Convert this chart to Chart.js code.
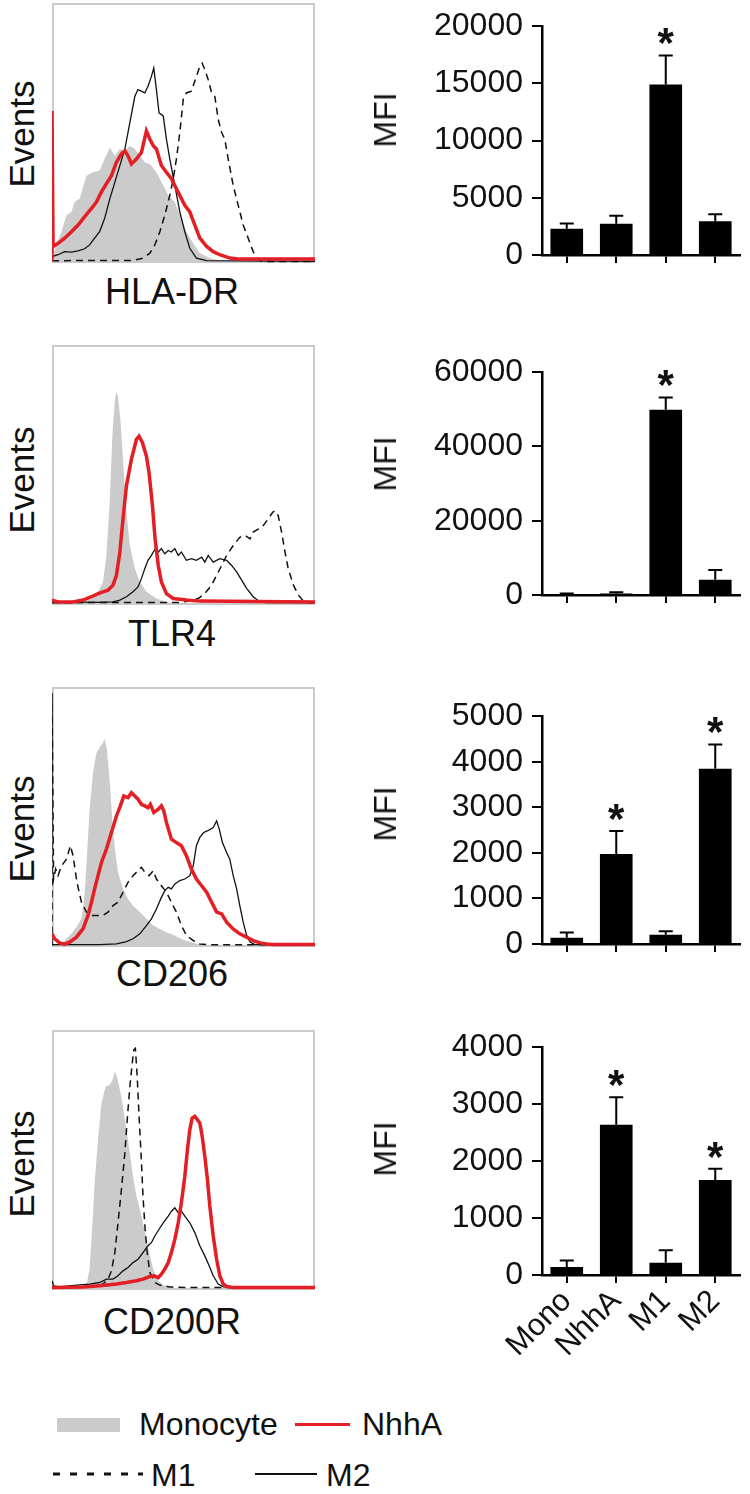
<!DOCTYPE html>
<html>
<head>
<meta charset="utf-8">
<script src="https://cdn.jsdelivr.net/npm/chart.js@4.4.1/dist/chart.umd.min.js"></script>
<style>
  body { margin: 0; background: #fff; width: 750px; height: 1494px; position: relative; overflow: hidden;
         font-family: Arial, "Liberation Sans", sans-serif; color: #111; }
  .box { position: absolute; left: 52px; width: 263px; height: 260px; border: 2px solid #cbcbcb; box-sizing: border-box; }
  canvas { position: absolute; }
  .txt { position: absolute; white-space: nowrap; line-height: 1; }
  .rot { transform: translate(-50%, -50%) rotate(-90deg); }
  .xl { transform: translate(-50%, -50%); font-size: 36px; left: 172px; }
</style>
</head>
<body>

<div class="box" style="top:3px"></div>
<div class="box" style="top:345px"></div>
<div class="box" style="top:687px"></div>
<div class="box" style="top:1030px"></div>

<canvas id="h1" width="263" height="260" style="left:52px;top:3px"></canvas>
<canvas id="h2" width="263" height="260" style="left:52px;top:345px"></canvas>
<canvas id="h3" width="263" height="260" style="left:52px;top:687px"></canvas>
<canvas id="h4" width="263" height="260" style="left:52px;top:1030px"></canvas>

<div class="txt rot" style="left:21px;top:134px;font-size:35px">Events</div>
<div class="txt rot" style="left:21px;top:480px;font-size:35px">Events</div>
<div class="txt rot" style="left:21px;top:829px;font-size:35px">Events</div>
<div class="txt rot" style="left:21px;top:1164px;font-size:35px">Events</div>

<div class="txt xl" style="top:292px">HLA-DR</div>
<div class="txt xl" style="top:634px">TLR4</div>
<div class="txt xl" style="top:974px">CD206</div>
<div class="txt xl" style="top:1322px">CD200R</div>

<canvas id="b1" width="390" height="297" style="left:360px;top:-2px"></canvas>
<canvas id="b2" width="390" height="291" style="left:360px;top:344px"></canvas>
<canvas id="b3" width="390" height="296" style="left:360px;top:688px"></canvas>
<canvas id="b4" width="390" height="366" style="left:360px;top:1019px"></canvas>

<div class="txt rot" style="left:385px;top:120px;font-size:32px">MFI</div>
<div class="txt rot" style="left:385px;top:464px;font-size:32px">MFI</div>
<div class="txt rot" style="left:385px;top:814px;font-size:32px">MFI</div>
<div class="txt rot" style="left:385px;top:1149px;font-size:32px">MFI</div>

<!-- legend -->
<div style="position:absolute;left:57px;top:1418px;width:63px;height:14px;background:#cbcbcb"></div>
<div class="txt" style="left:139px;top:1408px;font-size:32px">Monocyte</div>
<div style="position:absolute;left:295px;top:1423px;width:55px;height:3px;background:#e31e24"></div>
<div class="txt" style="left:362px;top:1408px;font-size:32px">NhhA</div>
<svg style="position:absolute;left:0;top:1460px" width="200" height="30">
  <line x1="53" y1="14" x2="143" y2="14" stroke="#111" stroke-width="3" stroke-dasharray="7 10"/>
</svg>
<div class="txt" style="left:151px;top:1459px;font-size:32px">M1</div>
<div style="position:absolute;left:255px;top:1473px;width:62px;height:2px;background:#111"></div>
<div class="txt" style="left:326px;top:1459px;font-size:32px">M2</div>

<script>
// ---- histogram traces: [channel %, events %] ----
const hlaMono = [[0,0.6],[1.6,6.4],[3.6,11.5],[5.5,17.9],[7.4,19.2],[8.6,23],[10.5,24.3],[13.1,33.2],[15.6,34.5],[18.1,35.2],[20,39.6],[22,44.1],[23.9,40.9],[25.8,43.5],[27.7,42.8],[29.6,44.8],[31.5,43.5],[33.4,40.9],[35.3,38.4],[37.2,37.7],[39.7,34.5],[42.3,29.4],[44.2,25.6],[46.7,23],[49.2,16.6],[51.1,11.5],[53.7,7],[56.2,3.2],[60,1.3],[63.8,0.3],[68.9,0],[100,0]];
const hlaNhhA = [[0,0],[0,58.2],[0.4,5.8],[2.3,7],[4.8,9],[7.4,11.5],[9.9,14.1],[12.4,17.3],[15,20.5],[16.9,23],[18.8,26.9],[20.7,30.1],[22.6,33.2],[24.5,38.4],[26.4,41.6],[27.7,42.8],[28.9,40.9],[30.2,37.7],[32.1,39.6],[34,42.2],[35.9,50.5],[37.2,47.3],[38.5,44.8],[39.7,43.5],[41.6,37.1],[43.5,34.5],[45.4,32],[47.3,28.1],[49.2,24.3],[50.5,21.7],[52.4,19.2],[54.3,14.1],[56.2,9],[58.8,5.8],[61.3,3.8],[63.8,2.6],[67.6,1.3],[71.4,0.9],[100,0.9]];
const hlaM1 = [[0,0.3],[30.8,0.4],[34.6,1.3],[37.2,3.2],[39.1,6.4],[41,11.5],[42.9,17.9],[44.8,25.6],[46.1,32],[47.3,39.6],[48.6,49.9],[49.9,62.7],[51.1,65.2],[53,65.9],[54.9,71.6],[56.2,75.4],[57.1,76.7],[58.1,74.2],[59.4,70.3],[60.7,65.2],[61.9,63.9],[63.2,55],[64.5,49.9],[65.7,47.3],[67,39.6],[68.9,29.4],[70.8,21.7],[72.7,14.1],[74.6,9],[76.5,3.8],[78.4,0.6],[80.3,0],[100,0]];
const hlaM2 = [[0,1.9],[2.3,2.6],[4.8,3.8],[7.4,3.6],[9.9,4.1],[12.4,4.9],[14.3,6.4],[16.2,9],[18.1,11.5],[20,16.6],[22,24.3],[23.9,30.7],[25.8,37.1],[27.7,43.5],[29.6,53.7],[31.5,63.9],[32.7,66.5],[34,65.9],[35.3,65.2],[36.5,67.8],[37.8,71.6],[38.7,74.8],[39.7,66.5],[40.7,57.5],[42.3,56.3],[43.5,47.3],[44.8,39.6],[46.7,29.4],[48.6,19.2],[50.5,11.5],[52.4,5.1],[54.9,1.3],[58.8,0.3],[100,0]];

const tlrMono = [[0,4.5],[0.6,1.3],[2.3,0.4],[11.8,0.6],[15,1.9],[17.5,4.5],[19.4,8.3],[20.7,18.6],[22,40.4],[23,66],[23.9,78.8],[24.5,82],[25.1,80.1],[26,71.2],[27,55.8],[28.3,35.3],[29.6,22.4],[31.5,13.5],[33.4,8.3],[35.9,4.5],[39.7,1.9],[43.5,0.6],[47.3,0],[100,0]];
const tlrNhhA = [[0,1.3],[2.3,0.6],[8,0.6],[11.8,1.3],[15,2.6],[17.5,3.8],[19.4,4.5],[21.3,5.1],[23.2,7.1],[24.5,10.9],[25.8,19.9],[27,32.7],[28.3,45.5],[30.2,55.8],[32.1,63.5],[33.1,64.7],[34.4,62.2],[35.9,57],[36.9,50.6],[38.2,37.8],[39.2,25],[40.4,14.7],[41.6,8.3],[43.5,3.8],[46.1,1.9],[51.1,1.3],[56.2,0.9],[100,0.6]];
const tlrM1 = [[0,0.3],[48.6,0.4],[52.4,0.9],[55.6,1.9],[58.1,3.8],[60.7,7.1],[62.6,10.9],[64.5,14.7],[66.4,18.6],[68.9,22.4],[71.4,25.6],[73.4,26.3],[75.3,25],[76.5,27.6],[78.4,28.8],[80.3,30.1],[82.2,32.7],[83.9,35.3],[84.8,35.9],[86,34],[87.3,27.6],[88.6,19.9],[89.8,13.5],[91.8,7.1],[93.7,3.2],[95.6,0.9],[97.5,0.3],[100,0.3]];
const tlrM2 = [[0,0.6],[18.1,0.4],[23.2,0.6],[25.8,1.3],[28.3,2.6],[30.8,4.5],[32.7,6.4],[34,9.6],[35.3,13.5],[36.5,16.7],[37.8,18.6],[39.1,20.9],[40.4,19.9],[41.6,21.2],[42.9,19.2],[44.2,20.5],[45.4,19.9],[46.7,21.2],[48,18.6],[49.2,19.9],[51.1,16.7],[53,17.3],[54.9,16.7],[56.9,17.9],[58.1,16],[59.4,18.6],[61.3,16],[63.8,17.3],[66.4,16.7],[68.3,14.7],[70.2,12.2],[72.1,9],[74,5.8],[76.5,2.6],[79.1,0.6],[81.6,0.3],[100,0.3]];

const cd206Mono = [[0,0],[3.6,0.6],[5.5,2.6],[7.4,4.5],[9.3,7.1],[11.2,10.3],[12.4,19.3],[13.3,34.7],[14.3,52.7],[15.6,66.8],[16.9,74.6],[18.1,76.5],[19.4,78.4],[20,79.9],[20.9,75.8],[22,63],[23,47.6],[23.9,37.3],[25.1,28.3],[27,21.9],[28.9,18],[30.8,15.4],[33.4,12.9],[35.9,10.3],[38.5,7.7],[41,6.4],[43.5,5.1],[46.1,4.1],[48.6,2.8],[51.1,1.8],[53.7,1],[56.2,0.4],[58.8,0],[100,0]];
const cd206NhhA = [[0,4.5],[1,2.6],[2.9,1],[4.8,0.5],[6.7,1.3],[9.3,3.2],[11.8,6.4],[13.7,11.6],[15,16.7],[16.2,21.9],[17.5,27],[18.8,32.1],[20.7,37.3],[22.6,43.7],[24.5,50.1],[26,54],[27.3,57.8],[28.9,57.2],[30.2,59.1],[31.5,57.8],[32.7,56.6],[34,54.6],[35.3,54],[36.5,53.3],[37.4,54.6],[38.7,51.4],[40.4,52.7],[41.6,54],[42.5,52.1],[43.5,47.6],[45.4,41.1],[47.3,39.8],[49.2,38.6],[51.1,34.7],[53,29.6],[54.9,25.7],[56.9,23.1],[58.8,20.6],[60.7,16.7],[62.6,12.9],[64.5,12.2],[66.4,9],[68.9,6.4],[71.4,4.5],[74,3.2],[76.5,1.9],[79.1,1],[81.6,0.6],[84.1,0.4],[100,0.4]];
const cd206M1 = [[0,0],[0,97.7],[0.6,25.7],[1.4,29.6],[2.3,27],[3.6,30.8],[5.5,33.4],[7,38.6],[8,34.7],[9.5,24.4],[11.2,16.7],[13.1,12.9],[15,11.6],[17.5,11.6],[19.4,11.6],[21.3,12.9],[23.2,15.4],[25.1,16.7],[27,20.6],[28.9,24.4],[30.8,27],[32.7,28.9],[34,30.2],[35.3,28.3],[36.9,27],[38.5,28.9],[39.7,25.7],[41.6,23.1],[43.5,20.6],[45.4,16.7],[47.3,12.9],[49.2,7.7],[51.1,3.9],[53.7,1.9],[56.2,0.6],[58.8,0.3],[100,0.3]];
const cd206M2 = [[0,0.3],[18.1,0.3],[24.5,0.6],[28.3,1.5],[30.8,2.6],[33.4,4.5],[35.9,7.7],[37.8,10.3],[39.7,14.1],[41.6,18.6],[42.9,21.2],[44.2,22.5],[45.4,21.9],[46.7,23.8],[48.6,25.1],[50.5,25.7],[52.4,27],[53.7,30.8],[54.9,38.6],[56.2,41.8],[57.7,43.7],[59,44.3],[60.3,45],[61.3,45.6],[62.6,48.2],[63.6,45],[64.8,39.8],[66.4,36],[67.6,33.4],[68.9,27],[70.2,21.9],[71.4,15.4],[72.7,9],[74,3.9],[75.3,1.3],[77.2,0.3],[100,0.3]];

const cd200Mono = [[0,0],[11.8,0.3],[13.3,2.3],[14.3,7.5],[15.4,25.4],[16.2,40.9],[17.5,57.6],[18.8,71.7],[20.4,78.1],[22,78.8],[23,80.7],[23.9,83.9],[24.7,82],[25.8,76.9],[27,70.4],[28.3,61.4],[29.6,52.4],[30.8,43.4],[32.1,35.7],[33.4,30.6],[34.6,25.4],[35.9,19],[37.2,12.6],[38.5,7.5],[40.4,3],[42.3,1.3],[44.8,0.4],[48.6,0],[100,0]];
const cd200NhhA = [[0,0.4],[11.8,0.6],[18.1,1],[24.5,1.7],[28.3,2.3],[32.1,3],[34.6,3.6],[37.2,4.6],[38.7,4.9],[40.4,4.2],[41.6,5.5],[42.9,7.5],[44.2,10],[45.4,13.9],[46.7,19],[48,25.4],[49.2,33.2],[50.5,43.4],[51.5,53.7],[52.4,61.4],[53.3,65.9],[54.3,66.6],[55.3,65.3],[56.2,64],[57.1,58.9],[58.1,51.2],[59.1,42.2],[60,31.9],[61.3,20.3],[62.6,11.3],[63.8,4.9],[65.1,1.7],[66.4,0.8],[68.9,0.4],[100,0.4]];
const cd200M1 = [[0,0.4],[15.6,0.6],[19.4,1.7],[21.3,3.6],[22.6,6.8],[23.9,13.9],[25.1,25.4],[26.4,38.3],[27.7,52.4],[28.7,66.6],[29.6,78.1],[30.5,87.1],[31.1,92.3],[31.7,92.9],[32.4,82],[33.1,66.6],[33.9,51.2],[34.6,35.7],[35.4,22.9],[36.2,13.9],[37.2,6.2],[39.1,2.3],[41,1.3],[44.8,0.6],[51.1,0.4],[100,0.4]];
const cd200M2 = [[0,3],[0.6,1],[2.9,0.6],[9.3,1.3],[14.3,1.7],[18.1,2.3],[20.7,3.6],[23.2,3.6],[25.1,4.9],[27,6.8],[28.9,8.1],[30.8,10],[32.7,11.3],[34.6,13.9],[36.5,16.5],[37.8,17.7],[39.1,20.3],[40.7,22.9],[42.3,25.4],[44.2,28],[45.4,29.9],[46.7,31.2],[48,29.3],[49.2,29.9],[50.5,28],[52.4,25.4],[54.3,21.6],[56.2,16.5],[58.1,12.6],[59.8,8.7],[61.3,4.9],[63.2,1.7],[65.1,0.6],[68.9,0.4],[100,0.4]];

// ---- MFI bar charts ----
const groups = ['Mono', 'NhhA', 'M1', 'M2'];
const hlaMfi = [2300, 2730, 14900, 2950];
const hlaSem = [460, 700, 2540, 620];
const hlaStar = [0, 0, 1, 0];
const tlrMfi = [150, 400, 49900, 4100];
const tlrSem = [250, 350, 3300, 2600];
const tlrStar = [0, 0, 1, 0];
const cd206Mfi = [135, 1975, 205, 3845];
const cd206Sem = [115, 505, 75, 535];
const cd206Star = [0, 1, 0, 1];
const cd200Mfi = [140, 2640, 215, 1666];
const cd200Sem = [115, 480, 220, 200];
const cd200Star = [0, 1, 0, 1];

const FONT = 'Arial, "Liberation Sans", sans-serif';
const RED = '#e31e24';
const GREY = '#cbcbcb';

const pts = arr => arr.map(p => ({ x: p[0], y: p[1] }));

function histogram(id, mono, nhha, m1, m2) {
    new Chart(document.getElementById(id), {
        type: 'line',
        data: {
            datasets: [
                { data: pts(nhha), borderColor: RED, borderWidth: 3.5, order: 0 },
                { data: pts(m2), borderColor: '#111', borderWidth: 1.3, order: 1 },
                { data: pts(m1), borderColor: '#111', borderWidth: 1.5, borderDash: [7, 5], order: 2 },
                { data: pts(mono), borderWidth: 0, backgroundColor: GREY, fill: 'start', order: 3 }
            ]
        },
        options: {
            responsive: false,
            animation: false,
            events: [],
            elements: { point: { radius: 0 }, line: { tension: 0 } },
            layout: { padding: 0 },
            plugins: { legend: { display: false }, tooltip: { enabled: false } },
            scales: {
                x: { type: 'linear', min: 0, max: 100, display: false },
                y: { min: -0.6, max: 100, display: false }
            }
        }
    });
}

histogram('h1', hlaMono, hlaNhhA, hlaM1, hlaM2);
histogram('h2', tlrMono, tlrNhhA, tlrM1, tlrM2);
histogram('h3', cd206Mono, cd206NhhA, cd206M1, cd206M2);
histogram('h4', cd200Mono, cd200NhhA, cd200M1, cd200M2);

// upper SEM whisker and significance star over each bar
const errorBars = {
    id: 'errorBars',
    afterDatasetsDraw(chart, args, opts) {
        const ctx = chart.ctx;
        const y = chart.scales.y;
        const bars = chart.getDatasetMeta(0).data;
        ctx.save();
        ctx.strokeStyle = '#000';
        ctx.lineWidth = 2;
        ctx.fillStyle = '#111';
        ctx.font = 'bold 42px ' + FONT;
        ctx.textAlign = 'center';
        bars.forEach((bar, i) => {
            const top = y.getPixelForValue(opts.mfi[i] + opts.sem[i]);
            ctx.beginPath();
            ctx.moveTo(bar.x, bar.y);
            ctx.lineTo(bar.x, top);
            ctx.moveTo(bar.x - 7, top);
            ctx.lineTo(bar.x + 7, top);
            ctx.stroke();
            if (opts.star[i]) ctx.fillText('*', bar.x, top + 2);
        });
        ctx.restore();
    }
};

function barChart(id, mfi, sem, star, max, step, showLabels) {
    const axisGrid = { drawOnChartArea: false, drawTicks: true, color: '#000', lineWidth: 2 };
    new Chart(document.getElementById(id), {
        type: 'bar',
        data: {
            labels: groups,
            datasets: [{ data: mfi, backgroundColor: '#000', barPercentage: 0.66, categoryPercentage: 1 }]
        },
        options: {
            responsive: false,
            animation: false,
            events: [],
            layout: { padding: { top: 20, right: 10, left: 0, bottom: 0 } },
            plugins: {
                legend: { display: false },
                tooltip: { enabled: false },
                errorBars: { mfi: mfi, sem: sem, star: star }
            },
            scales: {
                x: {
                    grid: Object.assign({ offset: false, tickLength: 8 }, axisGrid),
                    border: { display: true, color: '#000', width: 2.5 },
                    ticks: {
                        display: showLabels, autoSkip: false, color: '#111', padding: 0,
                        maxRotation: 45, minRotation: 45,
                        font: { family: FONT, size: 31 }
                    },
                    afterFit: s => { s.height = showLabels ? 110 : 40; }
                },
                y: {
                    min: 0, max: max,
                    grid: Object.assign({ tickLength: 10 }, axisGrid),
                    border: { display: true, color: '#000', width: 2.5 },
                    ticks: {
                        stepSize: step, color: '#111', padding: 9,
                        font: { family: FONT, size: 32 },
                        callback: v => String(v)
                    },
                    afterFit: s => { s.width = 182; }
                }
            }
        },
        plugins: [errorBars]
    });
}

barChart('b1', hlaMfi, hlaSem, hlaStar, 20000, 5000, false);
barChart('b2', tlrMfi, tlrSem, tlrStar, 60000, 20000, false);
barChart('b3', cd206Mfi, cd206Sem, cd206Star, 5000, 1000, false);
barChart('b4', cd200Mfi, cd200Sem, cd200Star, 4000, 1000, true);
</script>
</body>
</html>
